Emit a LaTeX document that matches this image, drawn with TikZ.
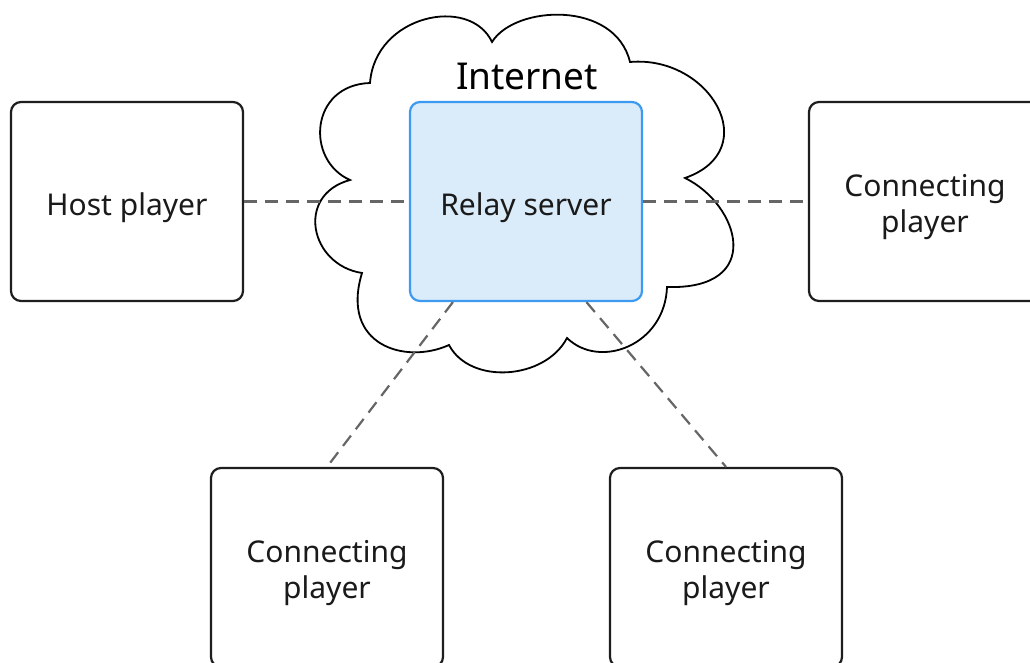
\documentclass[tikz,border=0pt]{standalone}
\usepackage{fontspec}
\setmainfont{Noto Sans}
\definecolor{boxline}{HTML}{1E1E1E}
\definecolor{relayfill}{HTML}{DAEBFA}
\definecolor{relayline}{HTML}{3C9BF0}
\definecolor{linkgray}{HTML}{666666}
\definecolor{txt}{HTML}{1A1A1A}
\tikzset{
  playerbox/.style={draw=boxline, line width=2.2pt, rounded corners=10pt, fill=white,
    minimum width=232pt, minimum height=199pt, inner sep=0pt},
  relaybox/.style={playerbox, draw=relayline, fill=relayfill},
  boxtext/.style={align=center, text=txt, font=\fontsize{30}{36}\selectfont, yshift=-6pt, inner sep=0pt},
  link/.style={draw=linkgray, line width=2.2pt, dash pattern=on 13pt off 8pt},
  cloudline/.style={draw=black, line width=1.8pt, fill=white}
}
\begin{document}
\begin{tikzpicture}[x=1pt, y=-1pt]
\useasboundingbox (0,0) rectangle (1030,663);
\clip (0,0) rectangle (1030,663);
% cloud
\path[cloudline] (370,83)
  .. controls (375,15) and (470,-5) .. (492,42)
  .. controls (515,5) and (615,0) .. (630,62)
  .. controls (710,55) and (765,150) .. (685,178)
  .. controls (740,205) and (765,290) .. (667,287)
  .. controls (665,345) and (600,370) .. (567,338)
  .. controls (545,380) and (470,385) .. (449,345)
  .. controls (405,365) and (340,345) .. (362,273)
  .. controls (310,265) and (295,195) .. (350,180)
  .. controls (305,160) and (310,85) .. (370,83) -- cycle;
\node[font=\fontsize{37}{44}\selectfont, text=black] (inet) at (527,76) {Internet};
% boxes
\node[playerbox, label={[boxtext]center:Host player}] (host) at (127,201.5) {};
\node[relaybox, label={[boxtext]center:Relay server}] (relay) at (526,201.5) {};
\node[playerbox, label={[boxtext]center:{Connecting\\player}}] (right) at (925,201.5) {};
\node[playerbox, label={[boxtext]center:{Connecting\\player}}] (bl) at (327,567.5) {};
\node[playerbox, label={[boxtext]center:{Connecting\\player}}] (br) at (726,567.5) {};
% links
\draw[link] (host.east) -- (relay.west);
\draw[link] (relay.east) -- (right.west);
\draw[link] (relay.234.8) -- (bl.north);
\draw[link] (relay.301.7) -- (br.north);
\end{tikzpicture}
\end{document}
